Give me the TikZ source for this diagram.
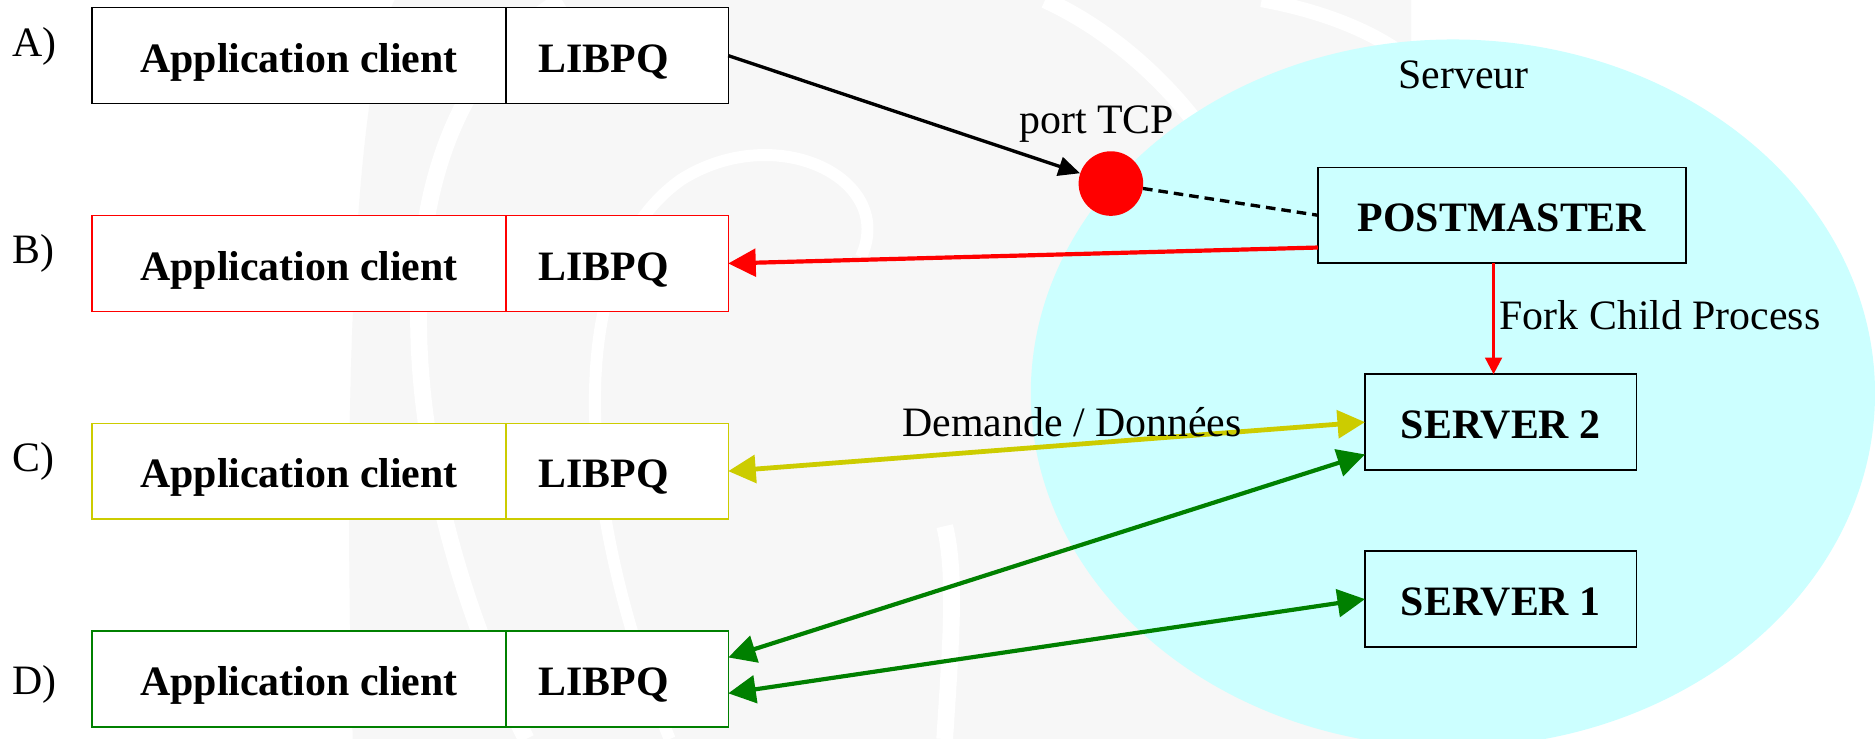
\documentclass[tikz,border=0pt]{standalone}
\usepackage{fontspec}
\setmainfont{Liberation Serif}
\usetikzlibrary{arrows.meta, positioning}

\definecolor{servcyan}{HTML}{CCFFFF}
\definecolor{reqyellow}{HTML}{CCCC00}
\definecolor{okgreen}{HTML}{008000}
\definecolor{wmgray}{HTML}{F7F7F7}

\begin{document}
\begin{tikzpicture}[x=1pt, y=-1pt,
  txt/.style={font=\fontsize{35}{42}\selectfont, inner sep=0pt},
  part/.style={draw, rectangle, inner sep=0pt, outer sep=0pt, minimum height=80pt,
    text height=30pt, text depth=2pt, font=\fontsize{35}{42}\selectfont\bfseries, line width=1.2pt},
  app/.style={part, fill=white, minimum width=346pt},
  lib/.style={part, fill=white, minimum width=186pt},
  proc/.style={part, line width=1.4pt},
  bigtip/.tip={Triangle[length=23pt, width=23pt]},
]
\useasboundingbox (0,0) rectangle (1568,618);
\fill[white] (0,0) rectangle (1568,618);

% faint logo in the back
\begin{scope}
\clip (0,0) rectangle (1568,618);
\fill[wmgray] (295,618) .. controls (285,300) and (300,60) .. (330,0) -- (1180,0) -- (1180,618) -- cycle;
\draw[white, line width=14pt] (440,618) .. controls (330,400) and (300,100) .. (470,0);
\draw[white, line width=10pt] (560,618) .. controls (480,420) and (470,220) .. (570,150) .. controls (650,100) and (750,150) .. (720,215);
\draw[white, line width=14pt] (874,0) .. controls (940,30) and (1000,90) .. (1030,150);
\draw[white, line width=12pt] (1055,0) .. controls (1110,10) and (1160,30) .. (1190,60);
\draw[white, line width=14pt] (790,618) .. controls (795,540) and (800,480) .. (790,440);

% server side
\fill[servcyan] (1215,329) ellipse [x radius=353, y radius=296];
\end{scope}

\node[txt, anchor=base] (serveur) at (1224,74) {Serveur};

% clients
\node[txt, anchor=base west] (labA) at (10,47) {A)};
\node[app] (appA) at (250,46.5) {Application client};
\node[lib, right=0pt of appA] (libA) {LIBPQ\hspace*{22pt}};

\node[txt, anchor=base west] (labB) at (10,220) {B)};
\node[app, draw=red] (appB) at (250,220.3) {Application client};
\node[lib, draw=red, right=0pt of appB] (libB) {LIBPQ\hspace*{22pt}};

\node[txt, anchor=base west] (labC) at (10,394.4) {C)};
\node[app, draw=reqyellow] (appC) at (250,394) {Application client};
\node[lib, draw=reqyellow, right=0pt of appC] (libC) {LIBPQ\hspace*{22pt}};

\node[txt, anchor=base west] (labD) at (10,581) {D)};
\node[app, draw=okgreen] (appD) at (250,567.8) {Application client};
\node[lib, draw=okgreen, right=0pt of appD] (libD) {LIBPQ\hspace*{22pt}};

% postmaster and backends
\node[proc, minimum width=308pt] (postmaster) at (1256,180) {POSTMASTER};
\node[proc, minimum width=227pt] (server2) at (1255,353) {SERVER 2};
\node[proc, minimum width=227pt] (server1) at (1255,501) {SERVER 1};

\node[circle, fill=red, minimum size=54pt, inner sep=0pt] (port) at (929,153.5) {};
\node[txt, anchor=base] (tcp) at (917,112) {port TCP};

% connections
\draw[line width=2.8pt, -{Triangle[length=18pt, width=16pt]}] (libA.east) -- (port);
\draw[line width=2.8pt, dash pattern=on 8pt off 5pt] (port) -- (postmaster.west);
\draw[red, line width=3.5pt, -bigtip] ([yshift=-27pt]postmaster.west) -- (libB.east);
\draw[red, line width=2.2pt, -{Triangle[length=14pt, width=14pt]}] ([xshift=-7pt]postmaster.south) -- ([xshift=-6pt]server2.north)
  node[txt, pos=0.6, anchor=base west, xshift=4pt, black] {Fork Child Process};
\draw[reqyellow, line width=4pt, bigtip-bigtip] (libC.east) -- (server2.west)
  node[txt, pos=0.54, anchor=base, yshift=7pt, black] {Demande / Données};
\draw[okgreen, line width=3.5pt, bigtip-bigtip] ([yshift=18pt]libD.east) -- ([yshift=-27pt]server2.west);
\draw[okgreen, line width=3.5pt, bigtip-bigtip] ([yshift=-12pt]libD.east) -- (server1.west);
\end{tikzpicture}
\end{document}
